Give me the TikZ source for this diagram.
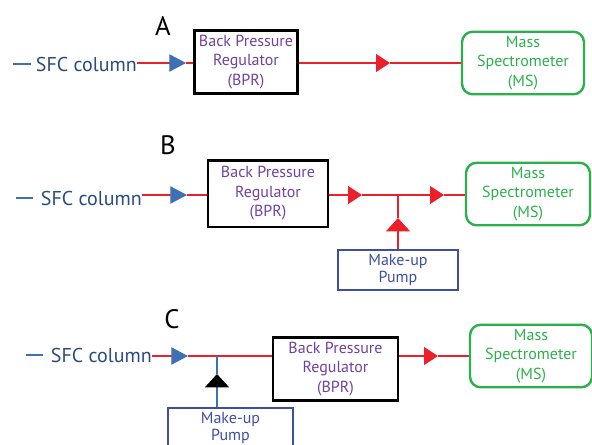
\documentclass[tikz,border=0pt]{standalone}
\usepackage{fontspec}
\setmainfont{PT Sans}
\usetikzlibrary{positioning,arrows.meta}
\definecolor{bprpurple}{RGB}{112,66,160}
\definecolor{sfcblue}{RGB}{40,76,124}
\definecolor{dashblue}{RGB}{62,112,182}
\definecolor{msgreen}{RGB}{44,176,76}
\definecolor{pumpblue}{RGB}{62,78,162}
\definecolor{pipered}{RGB}{236,32,42}
\newcommand{\sfcdash}{\textcolor{dashblue}{\rule[0.3em]{13pt}{1.3pt}}}

\begin{document}
\begin{tikzpicture}[
                    x=0.75pt, y=-0.75pt,
                    >=latex,
                    panel/.style={font=\fontsize{20}{20}\selectfont},
                    sfc/.style={anchor=east, text=sfcblue, font=\fontsize{15}{15}\selectfont, inner sep=0pt},
                    bpr/.style={draw, rectangle, line width=2pt, text=bprpurple, align=center, font=\fontsize{12}{14.6}\selectfont},
                    ms/.style={draw=msgreen, rectangle, rounded corners=8pt, line width=1.8pt, text=msgreen, align=center, font=\fontsize{12}{14.6}\selectfont},
                    pump/.style={draw=pumpblue, rectangle, line width=1.8pt, text=pumpblue, align=center, font=\fontsize{12}{12.6}\selectfont},
                    pipe/.style={pipered, line width=0.8pt},
                    bluetip/.style={-{Triangle[length=12.5pt, width=13pt, color=dashblue]}},
                    redtip/.style={-{Triangle[length=10.5pt, width=13.5pt, color=pipered]}},
                    redup/.style={-{Triangle[length=10pt, width=18pt, color=pipered]}},
                    blackup/.style={-{Triangle[length=10pt, width=18pt, color=black]}}
                    ]
        \useasboundingbox (0,0) rectangle (592,444);

        % A
        \node [panel] (labA) at (163,26) {A};
        \node [sfc] (sfcA) at (137,64) {\sfcdash\hspace{4pt}SFC column};
        \node [bpr, minimum width=69pt, minimum height=45pt] (bprA) at (246,62) {Back Pressure\\Regulator\\(BPR)};
        \node [ms, minimum width=91.5pt, minimum height=46.5pt] (msA) at (523,63) {Mass\\Spectrometer\\(MS)};
        \coordinate (tipA1) at (186,63);
        \coordinate (tipA2) at (390,63);

        \draw[pipe, bluetip] (sfcA.east |- tipA1) -- (tipA1);
        \draw[pipe] (tipA1) -- (bprA.west |- tipA1);
        \draw[pipe, redtip] (bprA.east |- tipA1) -- (tipA2);
        \draw[pipe] (tipA2) -- (msA.west |- tipA2);

        % B
        \node [panel] (labB) at (168,145) {B};
        \node [sfc] (sfcB) at (142,198) {\sfcdash\hspace{6pt}SFC column};
        \node [bpr, minimum width=90pt, minimum height=50pt] (bprB) at (268,193.5) {Back Pressure\\Regulator\\(BPR)};
        \node [ms, minimum width=93pt, minimum height=46.5pt] (msB) at (528,194) {Mass\\Spectrometer\\(MS)};
        \node [pump, minimum width=90pt, minimum height=27pt] (pumpB) at (398,270) {Make-up\\Pump};
        \coordinate (tipB1) at (187,195);
        \coordinate (tipB2) at (362,195);
        \coordinate (jB) at (398,195);
        \coordinate (tipB3) at (444,195);
        \coordinate (tipB4) at (398,218);

        \draw[pipe, bluetip] (sfcB.east |- tipB1) -- (tipB1);
        \draw[pipe] (tipB1) -- (bprB.west |- tipB1);
        \draw[pipe, redtip] (bprB.east |- tipB2) -- (tipB2);
        \draw[pipe] (tipB2) -- (jB);
        \draw[pipe, redtip] (jB) -- (tipB3);
        \draw[pipe] (tipB3) -- (msB.west |- tipB3);
        \draw[pipe, redup] (pumpB.north) -- (tipB4);
        \draw[pipe] (tipB4) -- (jB);

        % C
        \node [panel] (labC) at (172,319) {C};
        \node [sfc] (sfcC) at (152,355) {\sfcdash\hspace{6pt}SFC column};
        \node [pump, minimum width=93.75pt, minimum height=27pt] (pumpC) at (230.5,428) {Make-up\\Pump};
        \node [bpr, minimum width=93.75pt, minimum height=46.5pt] (bprC) at (335.5,369) {Back Pressure\\Regulator\\(BPR)};
        \node [ms, minimum width=91.5pt, minimum height=44.25pt] (msC) at (531,356) {Mass\\Spectrometer\\(MS)};
        \coordinate (tipC1) at (188,356);
        \coordinate (jC) at (217,356);
        \coordinate (tipC2) at (217,374);
        \coordinate (tipC3) at (438,356);

        \draw[pipe, bluetip] (sfcC.east |- tipC1) -- (tipC1);
        \draw[pipe] (tipC1) -- (bprC.west |- tipC1);
        \draw[dashblue, line width=0.8pt, blackup] (jC |- pumpC.north) -- (tipC2);
        \draw[dashblue, line width=0.8pt] (tipC2) -- (jC);
        \draw[pipe, redtip] (bprC.east |- tipC3) -- (tipC3);
        \draw[pipe] (tipC3) -- (msC.west |- tipC3);
\end{tikzpicture}
\end{document}
